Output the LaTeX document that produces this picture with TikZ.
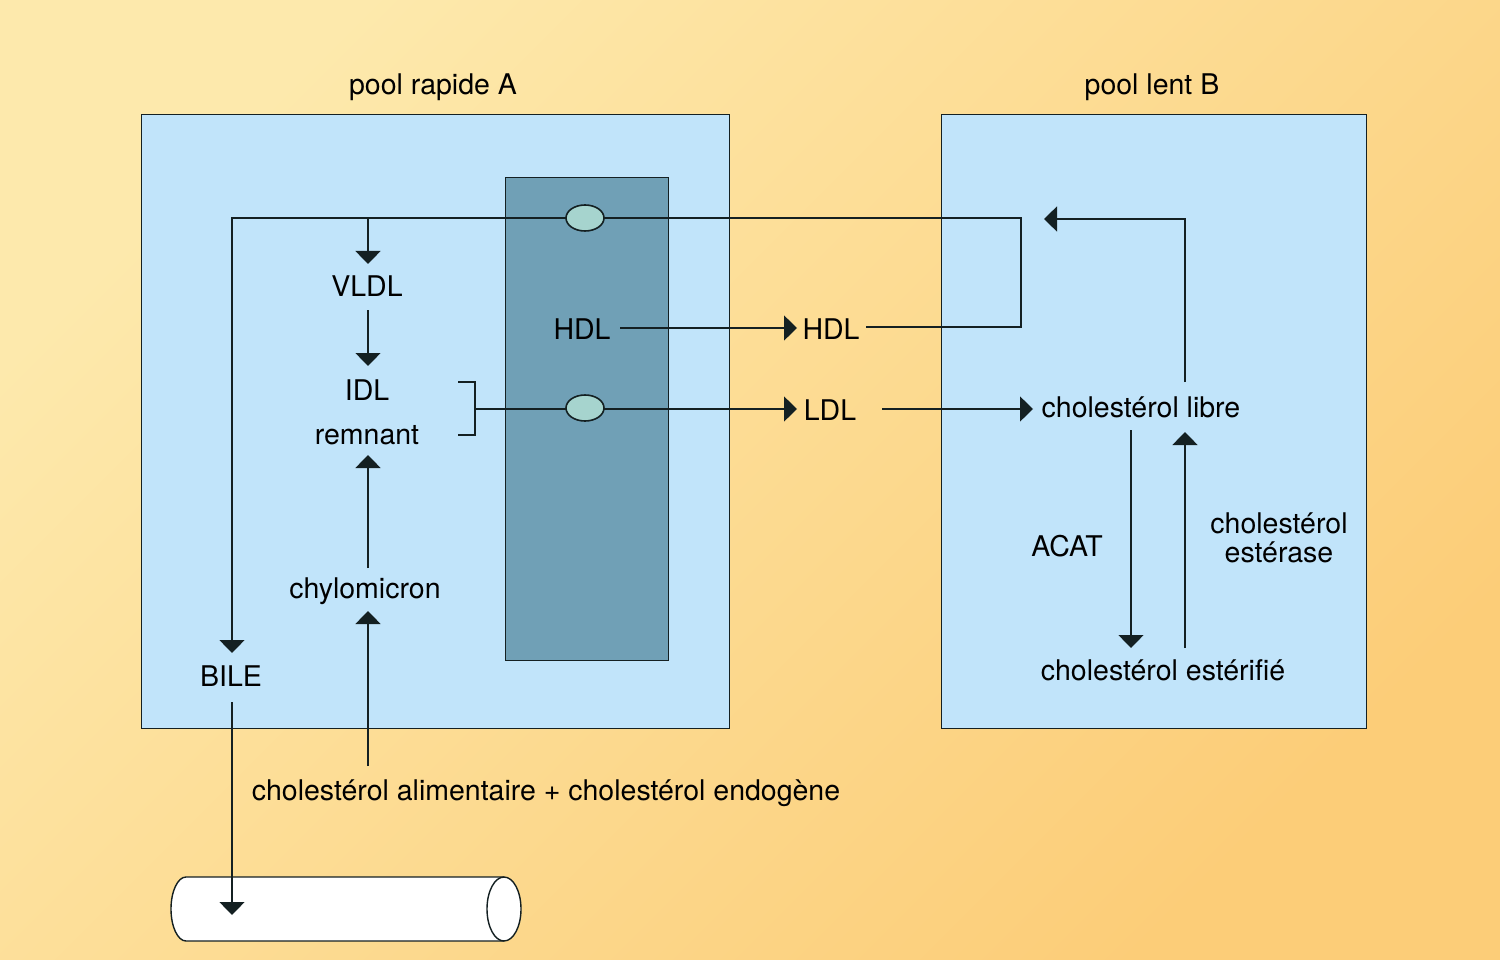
\documentclass[tikz,border=0pt]{standalone}
\usepackage{fontspec}
\setmainfont{TeX Gyre Heros}
\usetikzlibrary{arrows.meta,shapes.geometric}
\definecolor{bgA}{RGB}{253,233,172}
\definecolor{bgB}{RGB}{252,205,120}
\definecolor{poolblue}{RGB}{193,228,250}
\definecolor{dark}{RGB}{112,160,182}
\definecolor{ell}{RGB}{166,212,206}
\definecolor{ink}{RGB}{20,32,34}
\tikzset{
  lbl/.style={inner sep=0pt, anchor=base, font=\fontsize{28.5}{33}\selectfont, text=black, align=center},
  ln/.style={draw=ink, line width=1.4pt},
  arr/.style={ln, -{Triangle[width=25pt,length=13pt]}},
  poolbox/.style={draw=ink, line width=1.4pt, fill=poolblue, anchor=north west, inner sep=0pt},
  lip/.style={ellipse, draw=ink, line width=1.6pt, fill=ell, minimum width=38pt, minimum height=26pt, inner sep=0pt}
}
\begin{document}
\begin{tikzpicture}[x=1pt,y=-1pt]
\useasboundingbox (0,0) rectangle (1500,960);
\shade[top color=bgA, bottom color=bgB, shading angle=45] (0,0) rectangle (1500,960);

% pools
\node[poolbox, minimum width=588pt, minimum height=614pt] (poolA) at (141,114) {};
\node[poolbox, minimum width=425pt, minimum height=614pt] (poolB) at (941,114) {};
\node[draw=ink, line width=1.4pt, fill=dark, anchor=north west, inner sep=0pt, minimum width=163pt, minimum height=483pt] (col) at (505,177) {};

% titles
\node[lbl] (tA) at (433,95) {pool rapide A};
\node[lbl] (tB) at (1152,95) {pool lent B};

% labels
\node[lbl] (vldl) at (367,297) {VLDL};
\node[lbl] (idl) at (367,400) {IDL};
\node[lbl] (remn) at (367,444) {remnant};
\node[lbl] (chylo) at (365,598) {chylomicron};
\node[lbl] (bile) at (231,686) {BILE};
\node[lbl] (hdlL) at (582,339) {HDL};
\node[lbl] (hdlR) at (831,339) {HDL};
\node[lbl] (ldl) at (830,420) {LDL};
\node[lbl] (clib) at (1141,417) {cholestérol libre};
\node[lbl] (acat) at (1067,556) {ACAT};
\node[lbl] (est1) at (1279,533) {cholestérol};
\node[lbl] (est2) at (1279,562) {estérase};
\node[lbl] (cest) at (1163,680) {cholestérol estérifié};
\node[lbl] (diet) at (546,800) {cholestérol alimentaire + cholestérol endogène};

% coordinates
\coordinate (hdlOut) at (866,327);
\coordinate (jR) at (1021,327);
\coordinate (jT) at (1021,218);
\coordinate (jL) at (232,218);
\coordinate (bileIn) at (232,653);
\coordinate (vTop) at (368,218);
\coordinate (vTip) at (368,264);
\coordinate (vOut) at (368,310);
\coordinate (iTip) at (368,366);
\coordinate (b1) at (458,382);
\coordinate (b2) at (475,382);
\coordinate (b3) at (475,435);
\coordinate (b4) at (458,435);
\coordinate (bm) at (475,409);
\coordinate (ldlTip) at (797,409);
\coordinate (hdlFrom) at (620,328);
\coordinate (hdlTip) at (797,328);
\coordinate (ldlOut) at (882,409);
\coordinate (clibTip) at (1033,409);
\coordinate (cUpFrom) at (1185,382);
\coordinate (cUpCorner) at (1185,219);
\coordinate (cLeftTip) at (1044,219);
\coordinate (acatFrom) at (1131,430);
\coordinate (acatTip) at (1131,648);
\coordinate (estFrom) at (1185,648);
\coordinate (estTip) at (1185,432);
\coordinate (chyFrom) at (368,568);
\coordinate (chyTip) at (368,455);
\coordinate (dietFrom) at (368,766);
\coordinate (dietTip) at (368,611);
\coordinate (bileOut) at (232,702);
\coordinate (gutTip) at (232,915);

% tube
\fill[white] (504,877) -- (186,877) arc[start angle=270, end angle=90, x radius=15, y radius=32] -- (504,941) -- cycle;
\draw[ln] (504,877) -- (186,877) arc[start angle=270, end angle=90, x radius=15, y radius=32] -- (504,941);
\node[ellipse, draw=ink, line width=1.4pt, fill=white, minimum width=34pt, minimum height=64pt, inner sep=0pt] (tubeEnd) at (504,909) {};

% connectors
\draw[arr] (hdlOut) -- (jR) -- (jT) -- (jL) -- (bileIn);
\draw[arr] (vTop) -- (vTip);
\draw[arr] (vOut) -- (iTip);
\draw[ln] (b1) -- (b2) -- (b3) -- (b4);
\draw[arr] (bm) -- (ldlTip);
\draw[arr] (hdlFrom) -- (hdlTip);
\draw[arr] (ldlOut) -- (clibTip);
\draw[arr] (cUpFrom) -- (cUpCorner) -- (cLeftTip);
\draw[arr] (acatFrom) -- (acatTip);
\draw[arr] (estFrom) -- (estTip);
\draw[arr] (chyFrom) -- (chyTip);
\draw[arr] (dietFrom) -- (dietTip);
\draw[arr] (bileOut) -- (gutTip);

% lipoprotein ellipses
\node[lip] (e1) at (585,218) {};
\node[lip] (e2) at (585,408) {};
\end{tikzpicture}
\end{document}
